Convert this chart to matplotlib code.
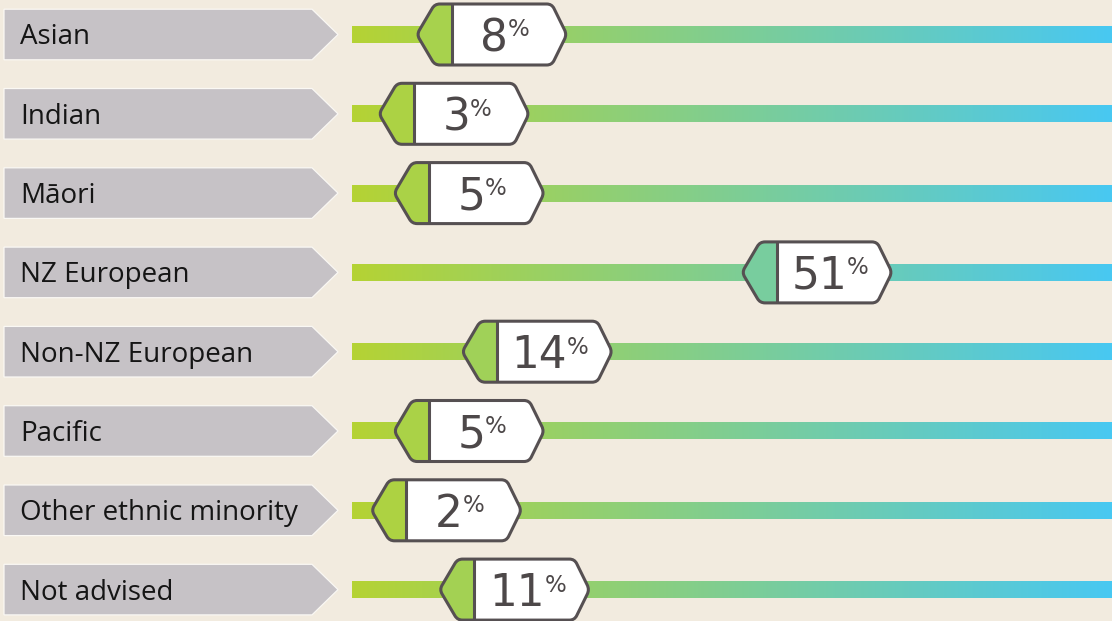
import numpy as np
import matplotlib
matplotlib.use('Agg')
import matplotlib.pyplot as plt
from matplotlib.path import Path
from matplotlib.patches import PathPatch, Polygon
import matplotlib.transforms as mtransforms

categories = ['Asian', 'Indian', 'Māori', 'NZ European', 'Non-NZ European',
              'Pacific', 'Other ethnic minority', 'Not advised']
values = [8, 3, 5, 51, 14, 5, 2, 11]

bg = '#f2ebdf'
c_left = np.array([181, 211, 52]) / 255
c_right = np.array([72, 200, 242]) / 255
edge = '#565052'
txt_col = '#4d4849'

W, H = 1112, 621
fig = plt.figure(figsize=(W / 100, H / 100), dpi=100, facecolor=bg)
ax = fig.add_axes([0, 0, 1, 1])
ax.set_facecolor(bg)
ax.axis('off')

# scale: 0% at x=391px, 7.56 px per percent; rows 79.3 px apart
px_per_pct = 7.5625
x0_px = 391.3
row_px = 79.3
top_px = 34.5
bar_lo, bar_hi = -5.2, 95.2
bar_half = 8.5


def grad_color(v):
    t = np.clip((v - bar_lo) / (bar_hi - bar_lo), 0, 1)
    return c_left + (c_right - c_left) * t


def rounded(pts, r):
    pts = [np.array(p, float) for p in pts]
    n = len(pts)
    verts, codes = [], []
    for k in range(n):
        p_prev, p, p_next = pts[k - 1], pts[k], pts[(k + 1) % n]
        a = p + (p_prev - p) * min(r / np.linalg.norm(p_prev - p), 0.5)
        b = p + (p_next - p) * min(r / np.linalg.norm(p_next - p), 0.5)
        verts.append(a)
        codes.append(Path.MOVETO if k == 0 else Path.LINETO)
        verts += [p, b]
        codes += [Path.CURVE3, Path.CURVE3]
    verts.append(verts[0])
    codes.append(Path.CLOSEPOLY)
    return np.array(verts), codes


def to_data(v, i, arr):
    arr = np.asarray(arr, float)
    return np.column_stack([v + arr[:, 0] / px_per_pct, i + arr[:, 1] / row_px])


# gradient strip image
grad = np.linspace(0, 1, 400)
grad_img = (c_left[None, :] + (c_right - c_left)[None, :] * grad[:, None])[None, :, :]

label_tr = mtransforms.blended_transform_factory(ax.transAxes, ax.transData)
renderer = fig.canvas.get_renderer()

marker_pts = [(-35, 0), (-17, -30.5), (100, -30.5), (115, 0), (100, 30.5), (-17, 30.5)]

ax.set_xlim(-x0_px / px_per_pct, (W - x0_px) / px_per_pct)
ax.set_ylim((H - top_px) / row_px, -top_px / row_px)

for i, (cat, v) in enumerate(zip(categories, values)):
    # label arrow box
    box = [(4, -25.3), (312, -25.3), (338, 0), (312, 25.3), (4, 25.3)]
    box = [(x / W, i + y / row_px) for x, y in box]
    ax.add_patch(Polygon(box, closed=True, transform=label_tr, facecolor='#c6c2c6',
                         edgecolor='#faf8f4', lw=0.9, zorder=2))
    ax.text(20 / W, i + 10 / row_px, cat, transform=label_tr, ha='left', va='baseline',
            fontsize=20, family=['Open Sans', 'DejaVu Sans'], color='#151515', zorder=3)

    # gradient bar
    ax.imshow(grad_img, extent=(bar_lo, bar_hi, i + bar_half / row_px, i - bar_half / row_px),
              aspect='auto', interpolation='bilinear', zorder=1)

    # marker
    verts, codes = rounded(marker_pts, 5)
    path = Path(to_data(v, i, verts), codes)
    body = PathPatch(path, facecolor='white', edgecolor='none', zorder=4)
    ax.add_patch(body)
    left = Polygon(to_data(v, i, [(-40, -35), (0, -35), (0, 35), (-40, 35)]), closed=True,
                   facecolor=grad_color(v), edgecolor='none', zorder=5)
    ax.add_patch(left)
    left.set_clip_path(body)
    ax.add_patch(PathPatch(path, facecolor='none', edgecolor=edge, lw=2.2, zorder=6))
    ax.plot([v, v], [i - 30.5 / row_px, i + 30.5 / row_px], color=edge, lw=2.2, zorder=6,
            solid_capstyle='butt')

    # value text with superscript %
    num = ax.text(v, i + 16.5 / row_px, str(v), ha='right', va='baseline', fontsize=31.5,
                  color=txt_col, zorder=7)
    pct = ax.text(v, i - 16 / row_px, '%', ha='left', va='top', fontsize=16.5,
                  color=txt_col, zorder=7)
    wn = num.get_window_extent(renderer).width
    wp = pct.get_window_extent(renderer).width
    centre = v + 53 / px_per_pct
    anchor = centre + (wn - wp) / 2 / px_per_pct
    num.set_x(anchor)
    pct.set_x(anchor)

ax.set_xlim(-x0_px / px_per_pct, (W - x0_px) / px_per_pct)
ax.set_ylim((H - top_px) / row_px, -top_px / row_px)

fig.savefig('out.png', dpi=100, facecolor=bg)
